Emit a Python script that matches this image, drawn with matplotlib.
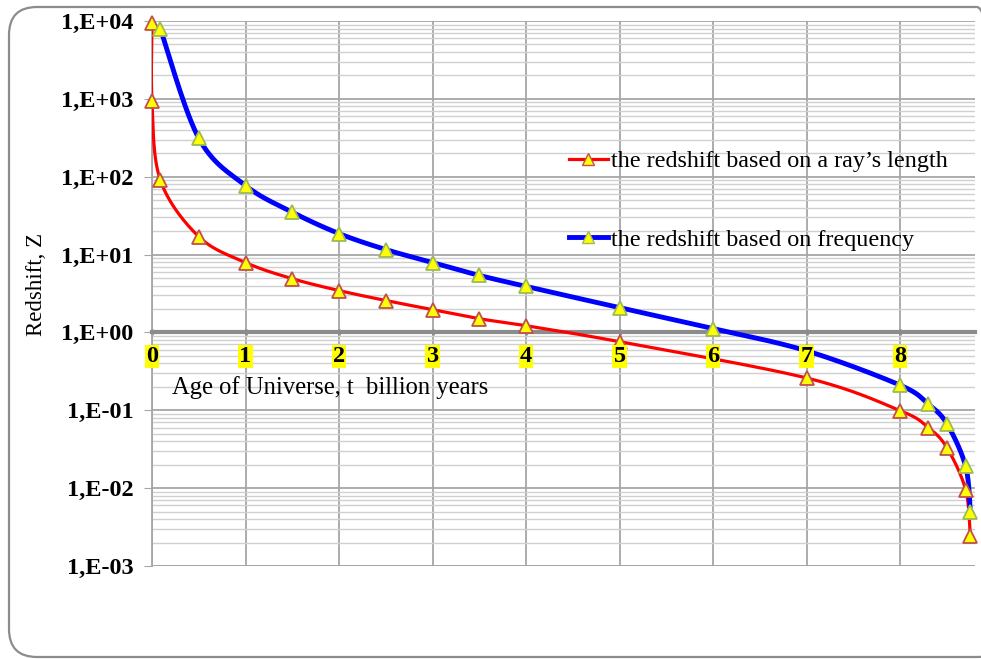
import numpy as np
import matplotlib
matplotlib.use("Agg")
import matplotlib.pyplot as plt
from matplotlib.patches import FancyBboxPatch
from matplotlib.lines import Line2D
from matplotlib.transforms import IdentityTransform
from matplotlib.ticker import LogLocator, NullFormatter, FixedLocator

# values
t_len = [0.0, 0.0, 0.09, 0.5, 1.0, 1.5, 2.0, 2.5, 3.0, 3.5, 4.0, 5.0, 7.0, 8.0, 8.3, 8.5, 8.7, 8.75]
z_len = [9.4e3, 930, 90, 17, 7.9, 4.9, 3.45, 2.57, 1.96, 1.5, 1.22, 0.76, 0.26, 0.099, 0.06, 0.033, 0.0095, 0.0024]

t_freq = [0.09, 0.5, 1.0, 1.5, 2.0, 2.5, 3.0, 3.5, 4.0, 5.0, 6.0, 7.0, 8.0, 8.3, 8.5, 8.7, 8.75]
z_freq = [7.9e3, 312, 77, 35, 18.6, 11.6, 7.9, 5.4, 3.9, 2.08, 1.12, 0.58, 0.21, 0.12, 0.067, 0.019, 0.0049]

label_len = "the redshift based on a ray\u2019s length"
label_freq = "the redshift based on frequency"
x_ticks = [0, 1, 2, 3, 4, 5, 6, 7, 8]
y_ticks = [1e-3, 1e-2, 1e-1, 1e0, 1e1, 1e2, 1e3, 1e4]
y_ticklabels = ["1,E-03", "1,E-02", "1,E-01", "1,E+00", "1,E+01", "1,E+02", "1,E+03", "1,E+04"]

SERIF = ["Liberation Serif", "DejaVu Serif"]


def smooth(xs, ys, n=30):
    # excel-like smoothed line: catmull-rom in (x, log y) space scaled to pixels
    px = np.asarray(xs, float) * 93.5
    py = np.log10(np.asarray(ys, float)) * 77.7
    P = np.column_stack([px, py])
    P = np.vstack([P[0], P, P[-1]])
    out = []
    for i in range(1, len(P) - 2):
        p0, p1, p2, p3 = P[i - 1], P[i], P[i + 1], P[i + 2]
        s = np.linspace(0, 1, n)[:, None]
        c = 0.5 * ((2 * p1) + (-p0 + p2) * s + (2 * p0 - 5 * p1 + 4 * p2 - p3) * s ** 2
                   + (-p0 + 3 * p1 - 3 * p2 + p3) * s ** 3)
        out.append(c)
    out = np.vstack(out)
    return out[:, 0] / 93.5, 10 ** (out[:, 1] / 77.7)


fig = plt.figure(figsize=(9.81, 6.59), dpi=100)
ax = fig.add_axes([152 / 981, 1 - 566 / 659, (975 - 152) / 981, (566 - 21) / 659])

ax.set_yscale("log")
ax.set_xlim(0, 8.80)
ax.set_ylim(1e-3, 1e4)

# grid
ax.yaxis.set_major_locator(FixedLocator(y_ticks))
ax.yaxis.set_minor_locator(LogLocator(base=10, subs=np.arange(2, 10), numticks=20))
ax.yaxis.set_minor_formatter(NullFormatter())
ax.set_xticks(x_ticks)
ax.grid(which="major", axis="y", color="#a6a6a6", lw=1.3, zorder=0)
ax.grid(which="minor", axis="y", color="#d0d0d0", lw=1.0, zorder=0)
ax.grid(which="major", axis="x", color="#a6a6a6", lw=1.3, zorder=0)
ax.axhline(1e-3, color="#a6a6a6", lw=1.3, zorder=0)

for s in ["top", "right"]:
    ax.spines[s].set_visible(False)
ax.spines["left"].set_color("#a6a6a6")
ax.spines["left"].set_linewidth(1.3)
ax.spines["bottom"].set_position(("data", 1.0))
ax.spines["bottom"].set_color("#8c8c8c")
ax.spines["bottom"].set_linewidth(3)

ax.set_yticklabels(y_ticklabels, fontfamily=SERIF, fontweight="bold", fontsize=17.5)
ax.tick_params(axis="y", which="major", length=6, color="#a6a6a6", pad=7.5)
ax.tick_params(axis="y", which="minor", length=0)
ax.tick_params(axis="x", length=4, width=2, color="#8c8c8c", direction="inout", labelbottom=False)

# x tick labels with yellow boxes, drawn above the grid
for v in x_ticks:
    ax.text(v, 0.49, str(v), fontfamily=SERIF, fontweight="bold", fontsize=17.5,
            ha="center", va="center", zorder=6, clip_on=False,
            bbox=dict(facecolor="#ffff00", edgecolor="none", pad=0.8))

# curves
xs, ys = smooth(t_len, z_len)
ax.plot(xs, ys, color="#ff0000", lw=2.3, zorder=3, clip_on=True)
xs, ys = smooth(t_freq, z_freq)
ax.plot(xs, ys, color="#0000ff", lw=3.5, zorder=3, clip_on=True)

ax.plot(t_len, z_len, ls="none", marker="^", ms=9.5, mfc="#ffff00", mec="#c0504d", mew=1.3,
        zorder=4, clip_on=False)
ax.plot(t_freq, z_freq, ls="none", marker="^", ms=9.5, mfc="#ffff00", mec="#9bbb59", mew=1.3,
        zorder=4, clip_on=False)

# axis titles
ax.text(0.21, 0.195, "Age of Universe, t  billion years", fontfamily=SERIF, fontsize=17.7,
        va="center", ha="left", zorder=5)
fig.text(36 / 981, 1 - 284 / 659, "Redshift, Z", rotation=90, fontfamily=SERIF, fontsize=16.5,
         va="center", ha="center")

# legend
handles = [
    Line2D([], [], color="#ff0000", lw=2.3, marker="^", ms=9, mfc="#ffff00", mec="#c0504d"),
    Line2D([], [], color="#0000ff", lw=3.5, marker="^", ms=9, mfc="#ffff00", mec="#9bbb59"),
]
leg = ax.legend(handles, [label_len, label_freq], loc="upper left",
                bbox_to_anchor=(557 / 981, 1 - 138 / 659), bbox_transform=fig.transFigure,
                frameon=False, prop={"family": SERIF, "size": 17.4}, handlelength=1.6,
                handletextpad=0.12, labelspacing=2.35, borderpad=0)

# rounded chart frame, right side runs off the picture
frame = FancyBboxPatch((9, 2), 996, 650, boxstyle="round,pad=0,rounding_size=28",
                       transform=IdentityTransform(), fill=False, ec="#8c8c8c", lw=1.6)
fig.patches.append(frame)

fig.savefig("out.png", dpi=100)
